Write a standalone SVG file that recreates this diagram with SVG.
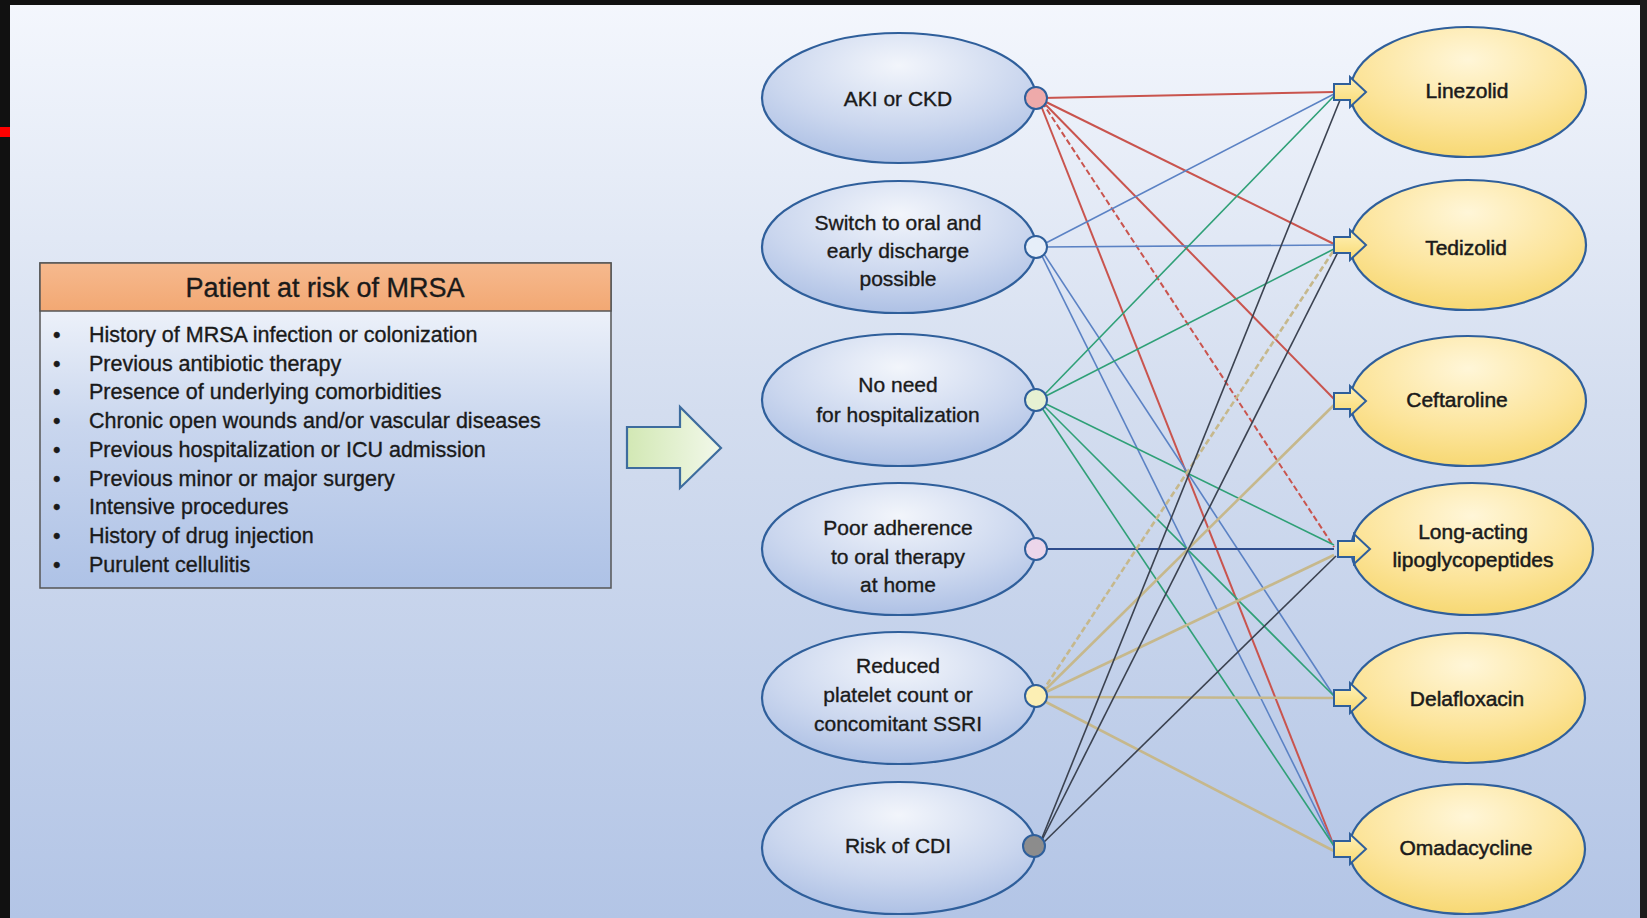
<svg xmlns="http://www.w3.org/2000/svg" width="1647" height="918" viewBox="0 0 1647 918">
<defs>
<linearGradient id="bg" x1="0" y1="0" x2="0" y2="1">
<stop offset="0" stop-color="#f4f7fd"/>
<stop offset="0.45" stop-color="#d3ddef"/>
<stop offset="1" stop-color="#b3c5e6"/>
</linearGradient>
<linearGradient id="boxbody" x1="0" y1="0" x2="0" y2="1">
<stop offset="0" stop-color="#fbfcfe"/>
<stop offset="0.5" stop-color="#c9d6ee"/>
<stop offset="1" stop-color="#aec2e6"/>
</linearGradient>
<linearGradient id="hdr" x1="0" y1="0" x2="0" y2="1">
<stop offset="0" stop-color="#f6b98e"/>
<stop offset="1" stop-color="#f2a873"/>
</linearGradient>
<radialGradient id="blueEll" cx="0.5" cy="0.25" r="0.8">
<stop offset="0" stop-color="#f2f5fb"/>
<stop offset="0.6" stop-color="#cad6ee"/>
<stop offset="1" stop-color="#a9bde3"/>
</radialGradient>
<radialGradient id="yelEll" cx="0.5" cy="0.25" r="0.8">
<stop offset="0" stop-color="#fff6d8"/>
<stop offset="0.6" stop-color="#fce49a"/>
<stop offset="1" stop-color="#f6d66c"/>
</radialGradient>
<linearGradient id="garrow" x1="0" y1="0" x2="1" y2="0">
<stop offset="0" stop-color="#d2e8b4"/>
<stop offset="1" stop-color="#f2f8ea"/>
</linearGradient>
<linearGradient id="smallArrow" x1="0" y1="0" x2="0" y2="1">
<stop offset="0" stop-color="#fff1b8"/>
<stop offset="1" stop-color="#f8da72"/>
</linearGradient>
</defs>
<style>
.t{font-family:"Liberation Sans",Arial,sans-serif;fill:#1a1a1a;stroke:#1a1a1a;stroke-width:0.35;}
.lt{font-size:21px;text-anchor:middle;}
.rt{font-size:21px;text-anchor:middle;stroke-width:0.5;}
.bl{font-size:21.5px;}
.ell{stroke:#2f5f9b;stroke-width:2.2;}
.dot{stroke:#2f5f9b;stroke-width:2;}
.sa{fill:url(#smallArrow);stroke:#2f5f9b;stroke-width:2;stroke-linejoin:miter;}
.c{fill:none;}
.red{stroke:#c9544e;stroke-width:2;}
.blu{stroke:#5b82c4;stroke-width:1.6;}
.grn{stroke:#2fa077;stroke-width:1.6;}
.dbl{stroke:#2e4c8c;stroke-width:2;}
.tan{stroke:#c6b88c;stroke-width:2.6;}
.dgr{stroke:#3b4250;stroke-width:1.6;}
.dash{stroke-dasharray:6 3;}
</style>

<rect x="0" y="0" width="1647" height="918" fill="url(#bg)"/>
<rect x="0" y="0" width="1647" height="5" fill="#111"/>
<rect x="0" y="0" width="10" height="918" fill="#111"/>
<rect x="0" y="127" width="10" height="10" fill="#ff0000"/>
<rect x="1640" y="0" width="7" height="918" fill="#1c1c1c"/>

<g id="risk-box">
<rect x="40" y="263" width="571" height="325" fill="url(#boxbody)" stroke="#555" stroke-width="1.5"/>
<rect x="40" y="263" width="571" height="48" fill="url(#hdr)" stroke="#555" stroke-width="1.5"/>
<text class="t" x="325" y="297" font-size="27" text-anchor="middle">Patient at risk of MRSA</text>
<g class="t bl">
<text x="53" y="342">•</text><text x="89" y="342">History of MRSA infection or colonization</text>
<text x="53" y="370.7">•</text><text x="89" y="370.7">Previous antibiotic therapy</text>
<text x="53" y="399.4">•</text><text x="89" y="399.4">Presence of underlying comorbidities</text>
<text x="53" y="428.1">•</text><text x="89" y="428.1">Chronic open wounds and/or vascular diseases</text>
<text x="53" y="456.8">•</text><text x="89" y="456.8">Previous hospitalization or ICU admission</text>
<text x="53" y="485.5">•</text><text x="89" y="485.5">Previous minor or major surgery</text>
<text x="53" y="514.2">•</text><text x="89" y="514.2">Intensive procedures</text>
<text x="53" y="542.9">•</text><text x="89" y="542.9">History of drug injection</text>
<text x="53" y="571.6">•</text><text x="89" y="571.6">Purulent cellulitis</text>
</g>
</g>

<g id="big-arrow">
<path d="M627,427 L680,427 L680,407 L721,448 L680,488 L680,468 L627,468 Z" fill="url(#garrow)" stroke="#3d6c9e" stroke-width="2.2" stroke-linejoin="miter"/>
</g>

<g id="connectors" class="c">
<line class="red" x1="1042" y1="98" x2="1334" y2="92"/>
<line class="red" x1="1042" y1="100" x2="1334" y2="244"/>
<line class="red" x1="1042" y1="101" x2="1334" y2="399"/>
<line class="red dash" x1="1042" y1="102" x2="1334" y2="547"/>
<line class="red" x1="1040" y1="103" x2="1334" y2="846"/>

<line class="blu" x1="1042" y1="245" x2="1334" y2="94"/>
<line class="blu" x1="1042" y1="247" x2="1334" y2="245"/>
<line class="blu" x1="1042" y1="251" x2="1334" y2="696"/>
<line class="blu" x1="1040" y1="252" x2="1334" y2="846"/>

<line class="grn" x1="1042" y1="397" x2="1334" y2="96"/>
<line class="grn" x1="1042" y1="398" x2="1334" y2="249"/>
<line class="grn" x1="1042" y1="402" x2="1334" y2="545"/>
<line class="grn" x1="1042" y1="404" x2="1334" y2="696"/>
<line class="grn" x1="1040" y1="405" x2="1334" y2="846"/>

<line class="dbl" x1="1042" y1="549" x2="1334" y2="549"/>

<line class="tan dash" x1="1042" y1="692" x2="1334" y2="250"/>
<line class="tan" x1="1042" y1="693" x2="1334" y2="405"/>
<line class="tan" x1="1042" y1="694" x2="1334" y2="555"/>
<line class="tan" x1="1042" y1="697" x2="1334" y2="698"/>
<line class="tan" x1="1042" y1="700" x2="1334" y2="851"/>

<line class="dgr" x1="1040" y1="843" x2="1340" y2="100"/>
<line class="dgr" x1="1040" y1="844" x2="1338" y2="252"/>
<line class="dgr" x1="1040" y1="846" x2="1336" y2="556"/>
</g>

<g id="aki">
<ellipse class="ell" cx="899" cy="98" rx="137" ry="65" fill="url(#blueEll)"/>
<circle class="dot" cx="1036" cy="98" r="11" fill="#eeaaaa"/>
<text class="t lt" x="898" y="106">AKI or CKD</text>
</g>
<g id="switch">
<ellipse class="ell" cx="899" cy="247" rx="137" ry="66" fill="url(#blueEll)"/>
<circle class="dot" cx="1036" cy="247" r="11" fill="#e6eef9"/>
<text class="t lt" x="898" y="230">Switch to oral and</text>
<text class="t lt" x="898" y="258">early discharge</text>
<text class="t lt" x="898" y="286">possible</text>
</g>
<g id="noneed">
<ellipse class="ell" cx="899" cy="400" rx="137" ry="66" fill="url(#blueEll)"/>
<circle class="dot" cx="1036" cy="400" r="11" fill="#e6f1d2"/>
<text class="t lt" x="898" y="392">No need</text>
<text class="t lt" x="898" y="422">for hospitalization</text>
</g>
<g id="poor">
<ellipse class="ell" cx="899" cy="549" rx="137" ry="66" fill="url(#blueEll)"/>
<circle class="dot" cx="1036" cy="549" r="11" fill="#ecd6ea"/>
<text class="t lt" x="898" y="535">Poor adherence</text>
<text class="t lt" x="898" y="564">to oral therapy</text>
<text class="t lt" x="898" y="592">at home</text>
</g>
<g id="reduced">
<ellipse class="ell" cx="899" cy="698" rx="137" ry="66" fill="url(#blueEll)"/>
<circle class="dot" cx="1036" cy="696" r="11" fill="#fcefb4"/>
<text class="t lt" x="898" y="673">Reduced</text>
<text class="t lt" x="898" y="702">platelet count or</text>
<text class="t lt" x="898" y="731">concomitant SSRI</text>
</g>
<g id="cdi">
<ellipse class="ell" cx="899" cy="848" rx="137" ry="66" fill="url(#blueEll)"/>
<circle class="dot" cx="1034" cy="846" r="11" fill="#8c8c8c"/>
<text class="t lt" x="898" y="853">Risk of CDI</text>
</g>

<g id="linezolid">
<ellipse class="ell" cx="1468" cy="92" rx="118" ry="65" fill="url(#yelEll)"/>
<path class="sa" d="M1334,84 L1350,84 L1350,77 L1366,92 L1350,107 L1350,100 L1334,100 Z"/>
<text class="t rt" x="1467" y="98">Linezolid</text>
</g>
<g id="tedizolid">
<ellipse class="ell" cx="1468" cy="245" rx="118" ry="65" fill="url(#yelEll)"/>
<path class="sa" d="M1334,237 L1350,237 L1350,230 L1366,245 L1350,260 L1350,253 L1334,253 Z"/>
<text class="t rt" x="1466" y="255">Tedizolid</text>
</g>
<g id="ceftaroline">
<ellipse class="ell" cx="1468" cy="401" rx="118" ry="65" fill="url(#yelEll)"/>
<path class="sa" d="M1334,393 L1350,393 L1350,386 L1366,401 L1350,416 L1350,409 L1334,409 Z"/>
<text class="t rt" x="1457" y="407">Ceftaroline</text>
</g>
<g id="longacting">
<ellipse class="ell" cx="1472" cy="549" rx="121" ry="66" fill="url(#yelEll)"/>
<path class="sa" d="M1338,541 L1354,541 L1354,534 L1370,549 L1354,564 L1354,557 L1338,557 Z"/>
<text class="t rt" x="1473" y="539">Long-acting</text>
<text class="t rt" x="1473" y="567">lipoglycopeptides</text>
</g>
<g id="delafloxacin">
<ellipse class="ell" cx="1467" cy="698" rx="118" ry="65" fill="url(#yelEll)"/>
<path class="sa" d="M1334,690 L1350,690 L1350,683 L1366,698 L1350,713 L1350,706 L1334,706 Z"/>
<text class="t rt" x="1467" y="706">Delafloxacin</text>
</g>
<g id="omadacycline">
<ellipse class="ell" cx="1467" cy="849" rx="118" ry="65" fill="url(#yelEll)"/>
<path class="sa" d="M1334,841 L1350,841 L1350,834 L1366,849 L1350,864 L1350,857 L1334,857 Z"/>
<text class="t rt" x="1466" y="855">Omadacycline</text>
</g>
</svg>
